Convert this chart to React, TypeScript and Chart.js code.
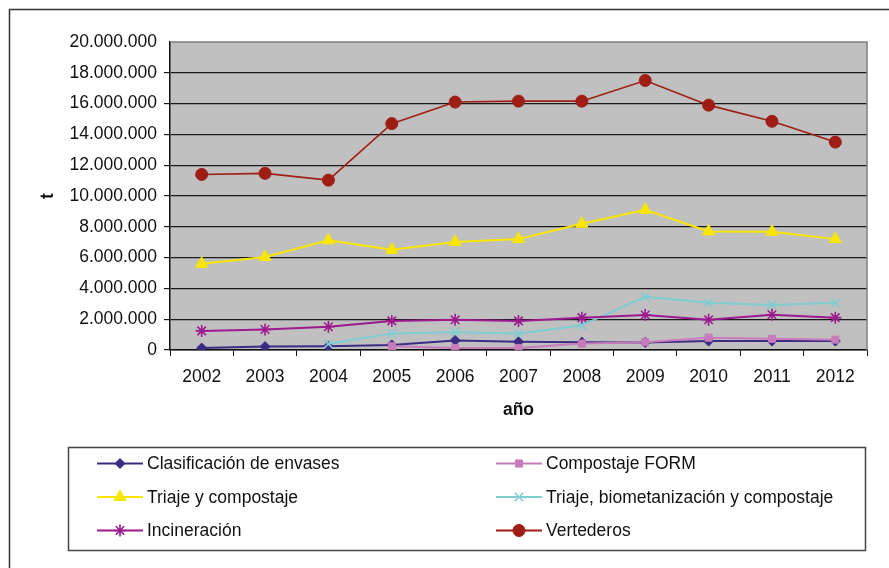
import React, { useEffect, useRef } from "react";
import { Chart, registerables } from "chart.js";
import { drawPoint } from "chart.js/helpers";

Chart.register(...registerables);

const years = ["2002", "2003", "2004", "2005", "2006", "2007", "2008", "2009", "2010", "2011", "2012"];

const clasificacionEnvases = [130000, 220000, 240000, 330000, 620000, 530000, 510000, 490000, 580000, 580000, 580000];
const compostajeFORM = [null, null, null, 240000, 130000, 130000, 420000, 510000, 800000, 730000, 670000];
const triajeCompostaje = [5600000, 6040000, 7120000, 6510000, 7020000, 7210000, 8200000, 9100000, 7700000, 7680000, 7200000];
const triajeBiometanizacion = [null, null, 400000, 1070000, 1160000, 1070000, 1600000, 3450000, 3070000, 2930000, 3070000];
const incineracion = [1240000, 1330000, 1510000, 1890000, 1960000, 1890000, 2100000, 2270000, 1960000, 2290000, 2100000];
const vertederos = [11400000, 11470000, 11030000, 14700000, 16100000, 16160000, 16160000, 17500000, 15900000, 14850000, 13500000];

const seriesLabels = [
  "Clasificación de envases",
  "Compostaje FORM",
  "Triaje y compostaje",
  "Triaje, biometanización y compostaje",
  "Incineración",
  "Vertederos",
];
const seriesValues = [clasificacionEnvases, compostajeFORM, triajeCompostaje, triajeBiometanizacion, incineracion, vertederos];
const seriesColors = ["#3B2C83", "#C67CBA", "#F8E500", "#7FCDD1", "#9C1A8E", "#9E1E16"];
const seriesStyles = ["rectRot", "rect", "triangle", "crossRot", "star", "circle"];
const seriesRadius = [5, 5, 7, 6, 6, 6];

const yMin = 0;
const yMax = 20000000;
const yStep = 2000000;

const FONT = "'Liberation Sans', Arial, sans-serif";

function fmt(v: number): string {
  return Math.round(v).toString().replace(/\B(?=(\d{3})+(?!\d))/g, ".");
}

const framePlugin = {
  id: "frame",
  beforeDraw(chart: any) {
    const { ctx, chartArea: a } = chart;
    ctx.save();
    ctx.fillStyle = "#ffffff";
    ctx.fillRect(0, 0, chart.width, chart.height);
    ctx.strokeStyle = "#333333";
    ctx.lineWidth = 1.5;
    ctx.strokeRect(9.5, 9.5, chart.width + 20, chart.height + 20);
    ctx.fillStyle = "#C0C0C0";
    ctx.fillRect(a.left, a.top, a.right - a.left, a.bottom - a.top);
    ctx.restore();
  },
  afterDatasetsDraw(chart: any) {
    const { ctx, chartArea: a } = chart;
    ctx.save();
    ctx.strokeStyle = "#808080";
    ctx.lineWidth = 1.5;
    ctx.beginPath();
    ctx.moveTo(a.left, a.top);
    ctx.lineTo(a.right, a.top);
    ctx.lineTo(a.right, a.bottom);
    ctx.stroke();
    ctx.restore();
  },
  afterDraw(chart: any) {
    const { ctx } = chart;
    ctx.save();
    ctx.strokeStyle = "#444444";
    ctx.lineWidth = 1.5;
    ctx.strokeRect(68.5, 447.5, 797, 103);
    const colX = [97, 496];
    const rowY = [463.5, 497, 530.5];
    chart.data.datasets.forEach((ds: any, i: number) => {
      const x1 = colX[i % 2];
      const y = rowY[Math.floor(i / 2)];
      ctx.strokeStyle = ds.borderColor;
      ctx.lineWidth = 2;
      ctx.beginPath();
      ctx.moveTo(x1, y);
      ctx.lineTo(x1 + 46, y);
      ctx.stroke();
      ctx.fillStyle = ds.pointBackgroundColor;
      ctx.strokeStyle = ds.pointBorderColor;
      ctx.lineWidth = ds.pointBorderWidth;
      drawPoint(ctx, { pointStyle: ds.pointStyle, radius: ds.pointRadius, rotation: 0, borderWidth: ds.pointBorderWidth }, x1 + 23, y);
      ctx.fillStyle = "#111111";
      ctx.font = `17.5px ${FONT}`;
      ctx.textBaseline = "middle";
      ctx.textAlign = "left";
      ctx.fillText(ds.label, x1 + 50, y + 1);
    });
    ctx.restore();
  },
};

export default function App() {
  const ref = useRef<HTMLCanvasElement | null>(null);
  useEffect(() => {
    document.body.style.margin = "0";
    const canvas = ref.current;
    if (!canvas) return;
    const chart = new Chart(canvas, {
      type: "line",
      data: {
        labels: years,
        datasets: seriesLabels.map((label, i) => ({
          label,
          data: seriesValues[i],
          borderColor: seriesColors[i],
          backgroundColor: seriesColors[i],
          pointBackgroundColor: seriesColors[i],
          pointBorderColor: seriesColors[i],
          pointBorderWidth: seriesStyles[i] === "crossRot" || seriesStyles[i] === "star" ? 1.6 : 1,
          pointStyle: seriesStyles[i] as any,
          pointRadius: seriesRadius[i],
          borderWidth: i === 5 ? 1.6 : 2,
          tension: 0,
          spanGaps: false,
          order: 6 - i,
        })),
      },
      options: {
        responsive: false,
        animation: false,
        layout: { padding: { left: 0, top: 42, right: 22, bottom: 138 } },
        plugins: { legend: { display: false }, tooltip: { enabled: false } },
        scales: {
          x: {
            offset: true,
            afterFit(scale: any) {
              scale.height = 80;
            },
            grid: { offset: true, drawOnChartArea: false, drawTicks: true, tickLength: 6, color: "#111111", lineWidth: 1 },
            border: { display: true, color: "#111111", width: 1.5 },
            ticks: { color: "#111111", font: { family: FONT, size: 17.5 }, padding: 11, autoSkip: false, maxRotation: 0 },
            title: { display: true, text: "año", color: "#111111", font: { family: FONT, size: 17.5, weight: "bold" }, padding: { top: 0, bottom: 9.5 } },
          },
          y: {
            min: yMin,
            max: yMax,
            afterFit(scale: any) {
              scale.width = 170;
            },
            grid: {
              drawTicks: true,
              tickLength: 6,
              color: (c: any) => (c.tick && c.tick.value === yMax ? "rgba(0,0,0,0)" : "#1a1a1a"),
              lineWidth: 1.2,
            },
            border: { display: true, color: "#111111", width: 1.5 },
            ticks: {
              stepSize: yStep,
              color: "#111111",
              font: { family: FONT, size: 17.5 },
              padding: 7,
              callback: (v: any) => fmt(Number(v)),
            },
            title: { display: true, text: "t", color: "#111111", font: { family: FONT, size: 17.5, weight: "bold" }, padding: { top: 37.5, bottom: 0 } },
          },
        },
      },
      plugins: [framePlugin],
    } as any);
    return () => chart.destroy();
  }, []);
  return (
    <div style={{ position: "fixed", left: 0, top: 0, width: 889, height: 568 }}>
      <canvas ref={ref} width={889} height={568} style={{ width: 889, height: 568, display: "block" }} />
    </div>
  );
}
